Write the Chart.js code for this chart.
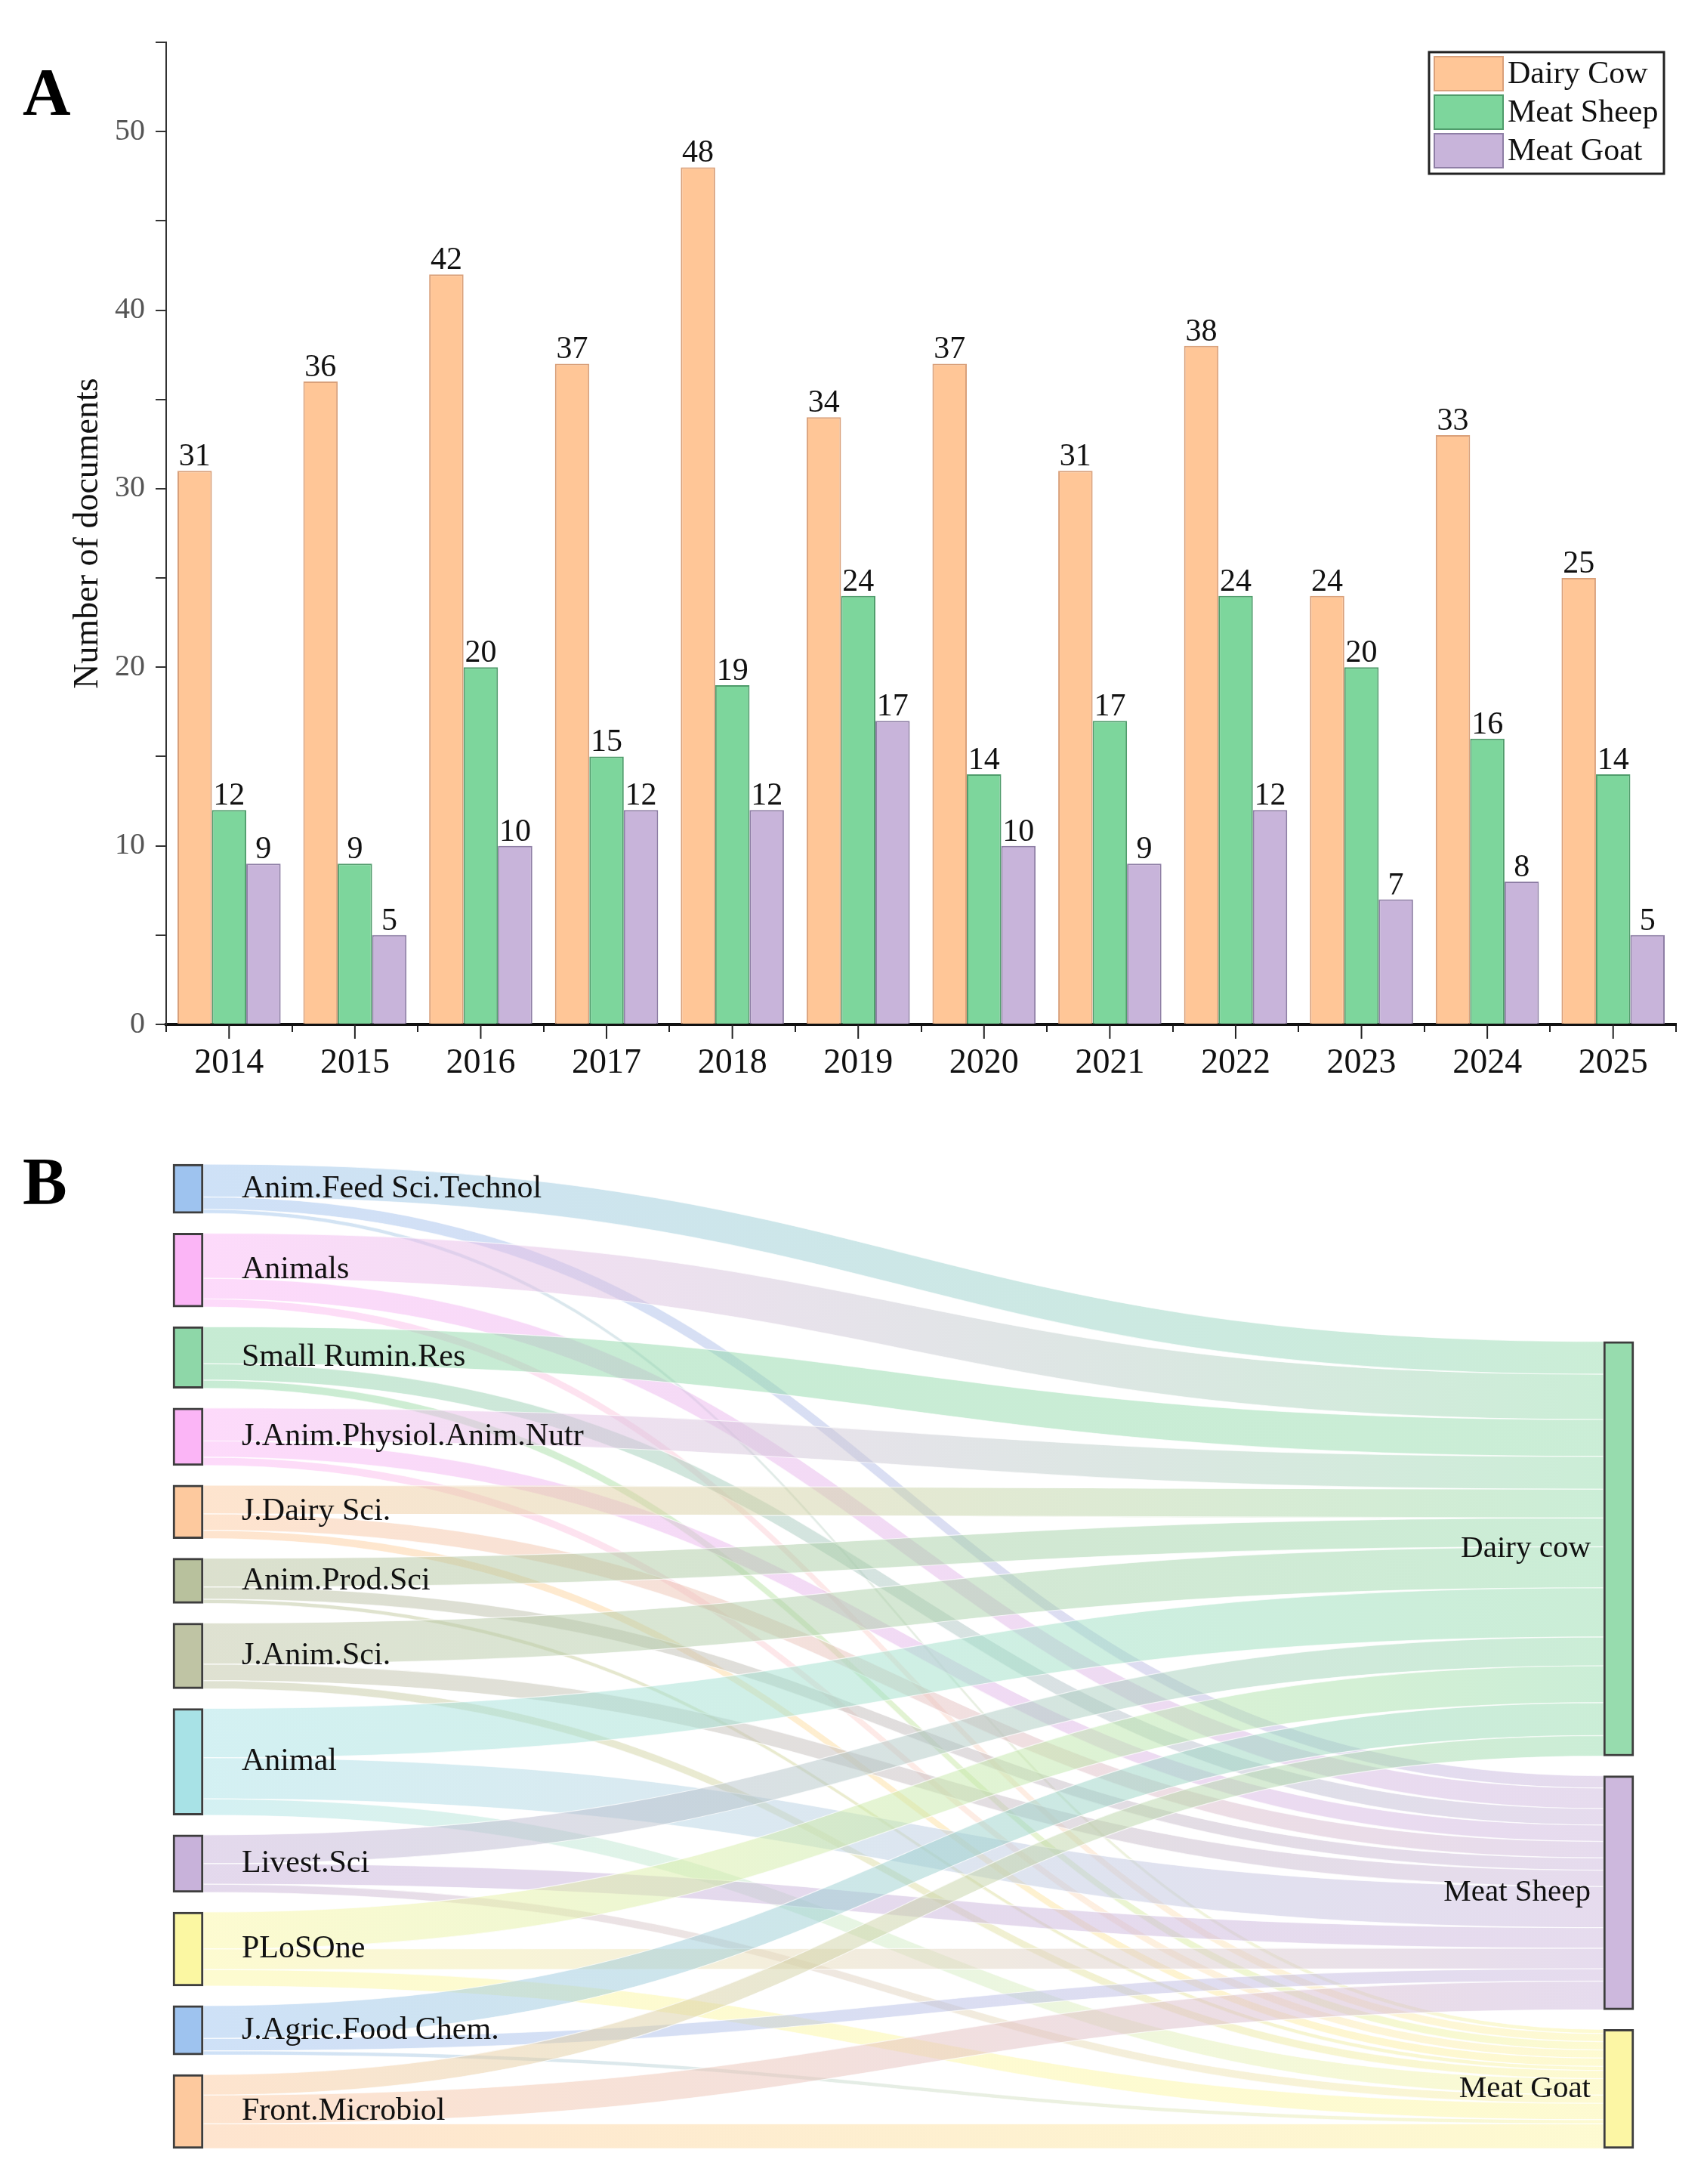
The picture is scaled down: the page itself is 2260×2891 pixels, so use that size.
<!DOCTYPE html>
<html>
<head>
<meta charset="utf-8">
<script src="https://cdn.jsdelivr.net/npm/chart.js@4.4.1/dist/chart.umd.min.js"></script>
<style>
    html, body { margin: 0; padding: 0; background: #fff; }
    #page { position: relative; width: 2260px; height: 2891px; }
    #barChart { position: absolute; left: 0; top: 0; }
    #flowChart { position: absolute; left: 0; top: 1480px; }
    .panel { position: absolute; font-family: "Liberation Serif", serif; font-weight: bold; font-size: 88px; line-height: 88px; color: #000; }
</style>
</head>
<body>
<div id="page">
    <canvas id="barChart" width="2260" height="1480"></canvas>
    <canvas id="flowChart" width="2260" height="1411"></canvas>
    <div class="panel" style="left:30px; top:78px;">A</div>
    <div class="panel" style="left:30px; top:1520px;">B</div>
</div>
<script>
// ---- A: documents per year ----
const years = ['2014', '2015', '2016', '2017', '2018', '2019', '2020', '2021', '2022', '2023', '2024', '2025'];
const dairyCow = [31, 36, 42, 37, 48, 34, 37, 31, 38, 24, 33, 25];
const meatSheep = [12, 9, 20, 15, 19, 24, 14, 17, 24, 20, 16, 14];
const meatGoat = [9, 5, 10, 12, 12, 17, 10, 9, 12, 7, 8, 5];
const yTicks = [0, 10, 20, 30, 40, 50];

// ---- B: journal -> livestock flows ----
const journals = ['Anim.Feed Sci.Technol', 'Animals', 'Small Rumin.Res', 'J.Anim.Physiol.Anim.Nutr', 'J.Dairy Sci.',
    'Anim.Prod.Sci', 'J.Anim.Sci.', 'Animal', 'Livest.Sci', 'PLoSOne', 'J.Agric.Food Chem.', 'Front.Microbiol'];
const livestock = ['Dairy cow', 'Meat Sheep', 'Meat Goat'];
const toDairyCow = [8, 11, 9, 8, 7, 7, 10, 12, 7, 9, 8, 5];
const toMeatSheep = [3, 5, 4, 4, 4, 3, 4, 10, 5, 5, 3, 7];
const toMeatGoat = [1, 2, 2, 2, 2, 1, 2, 4, 2, 4, 1, 6];

const serif = '"Liberation Serif", "Times New Roman", serif';
const journalColors = ['#9ec3ef', '#fbb5f6', '#8ed7a8', '#fbb5f6', '#fdc99e', '#b8c19d',
    '#bfc4a4', '#a8e2e6', '#c8b2da', '#fbf7a2', '#9ec3ef', '#fdc99e'];
const livestockColors = ['#97dcae', '#cdb8dd', '#fcf6a4'];

function hexA(hex, a) {
    const n = parseInt(hex.slice(1), 16);
    return `rgba(${n >> 16}, ${(n >> 8) & 255}, ${n & 255}, ${a})`;
}

// numbers above the bars
const valueLabels = {
    id: 'valueLabels',
    afterDatasetsDraw(chart) {
        const ctx = chart.ctx;
        ctx.save();
        ctx.font = `42px ${serif}`;
        ctx.fillStyle = '#111';
        ctx.textAlign = 'center';
        ctx.textBaseline = 'alphabetic';
        chart.data.datasets.forEach((ds, i) => {
            chart.getDatasetMeta(i).data.forEach((bar, k) => {
                ctx.fillText(ds.data[k], bar.x, bar.y - 7);
            });
        });
        ctx.restore();
    }
};

// extra tick under every year label
const centerTicks = {
    id: 'centerTicks',
    afterDraw(chart) {
        const x = chart.scales.x;
        const ctx = chart.ctx;
        ctx.save();
        ctx.strokeStyle = '#222';
        ctx.lineWidth = 2;
        years.forEach((_, i) => {
            const px = x.getPixelForTick(i);
            ctx.beginPath();
            ctx.moveTo(px, x.top);
            ctx.lineTo(px, x.top + 19);
            ctx.stroke();
        });
        ctx.restore();
    }
};

// boxed legend in the top right corner
const boxLegend = {
    id: 'boxLegend',
    afterDraw(chart) {
        const ctx = chart.ctx;
        const left = 1892, top = 69, w = 311, h = 161;
        ctx.save();
        ctx.fillStyle = '#fff';
        ctx.fillRect(left, top, w, h);
        ctx.strokeStyle = '#222';
        ctx.lineWidth = 3;
        ctx.strokeRect(left, top, w, h);
        ctx.font = `42px ${serif}`;
        ctx.textBaseline = 'middle';
        chart.data.datasets.forEach((ds, i) => {
            const y = top + 6 + i * 51;
            ctx.fillStyle = ds.backgroundColor;
            ctx.fillRect(left + 7, y, 91, 45);
            ctx.strokeStyle = ds.borderColor;
            ctx.lineWidth = 2;
            ctx.strokeRect(left + 7, y, 91, 45);
            ctx.fillStyle = '#111';
            ctx.fillText(ds.label, left + 104, y + 24);
        });
        ctx.restore();
    }
};

new Chart(document.getElementById('barChart'), {
    type: 'bar',
    data: {
        labels: years,
        datasets: [
            { label: 'Dairy Cow', data: dairyCow, backgroundColor: '#ffc697', borderColor: '#d9a07a', borderWidth: 2 },
            { label: 'Meat Sheep', data: meatSheep, backgroundColor: '#7dd69c', borderColor: '#4f9c6b', borderWidth: 2 },
            { label: 'Meat Goat', data: meatGoat, backgroundColor: '#c8b4da', borderColor: '#8e7ea5', borderWidth: 2 }
        ]
    },
    options: {
        responsive: false,
        animation: false,
        devicePixelRatio: 1,
        layout: { padding: { left: 85, right: 41, top: 56, bottom: 0 } },
        datasets: { bar: { categoryPercentage: 0.82, barPercentage: 1 } },
        plugins: { legend: { display: false }, tooltip: { enabled: false } },
        scales: {
            x: {
                grid: { offset: true, drawOnChartArea: false, tickLength: 10, color: '#222', lineWidth: 2 },
                border: { color: '#111', width: 4 },
                ticks: { font: { family: serif, size: 46 }, color: '#111', padding: 14, maxRotation: 0 },
                afterFit: (scale) => { scale.height = 124; }
            },
            y: {
                min: 0,
                max: 55,
                ticks: {
                    stepSize: 5,
                    callback: (v) => (yTicks.includes(v) ? v : ''),
                    font: { family: serif, size: 40 },
                    color: '#555',
                    padding: 14
                },
                grid: { drawOnChartArea: false, tickLength: 14, color: '#333', lineWidth: 2 },
                border: { color: '#333', width: 2 },
                title: { display: true, text: 'Number of documents', font: { family: serif, size: 46 }, color: '#111', padding: 4 },
                afterFit: (scale) => { scale.width = 135; }
            }
        }
    },
    plugins: [valueLabels, centerTicks, boxLegend]
});

// ---- B: sankey built from floating bars + link plugin ----
const gapUnits = 4.8;
const flows = [toDairyCow, toMeatSheep, toMeatGoat];
const journalTotals = journals.map((_, i) => flows.reduce((s, f) => s + f[i], 0));
const livestockTotals = flows.map((f) => f.reduce((a, b) => a + b, 0));
const sum = (arr) => arr.reduce((a, b) => a + b, 0);
const leftSpan = sum(journalTotals) + gapUnits * (journals.length - 1);
const rightSpan = sum(livestockTotals) + gapUnits * (livestock.length - 1);

function stackNodes(values, start) {
    let pos = start;
    return values.map((v) => {
        const r = [pos, pos + v];
        pos += v + gapUnits;
        return r;
    });
}
const leftNodes = stackNodes(journalTotals, 0);
const rightNodes = stackNodes(livestockTotals, leftSpan - rightSpan);

const halfNode = 20;

const sankeyLinks = {
    id: 'sankeyLinks',
    beforeDatasetsDraw(chart) {
        const { ctx } = chart;
        const xs = chart.scales.x, ys = chart.scales.y;
        const x0 = xs.getPixelForValue(0) + halfNode;
        const x1 = xs.getPixelForValue(1) - halfNode;
        const xm = (x0 + x1) / 2;
        const srcOff = journals.map(() => 0);
        const tgtOff = livestock.map(() => 0);
        // offsets: sources stack by target order, targets stack by source order
        const links = [];
        journals.forEach((_, i) => {
            flows.forEach((f, j) => {
                links.push({ i, j, v: f[i], s: leftNodes[i][0] + srcOff[i] });
                srcOff[i] += f[i];
            });
        });
        flows.forEach((f, j) => {
            journals.forEach((_, i) => {
                const link = links.find((l) => l.i === i && l.j === j);
                link.t = rightNodes[j][0] + tgtOff[j];
                tgtOff[j] += f[i];
            });
        });
        ctx.save();
        links.forEach((l) => {
            if (!l.v) return;
            const sa = ys.getPixelForValue(l.s), sb = ys.getPixelForValue(l.s + l.v);
            const ta = ys.getPixelForValue(l.t), tb = ys.getPixelForValue(l.t + l.v);
            const g = ctx.createLinearGradient(x0, 0, x1, 0);
            g.addColorStop(0, hexA(journalColors[l.i], 0.5));
            g.addColorStop(1, hexA(livestockColors[l.j], 0.5));
            ctx.beginPath();
            ctx.moveTo(x0, sa);
            ctx.bezierCurveTo(xm, sa, xm, ta, x1, ta);
            ctx.lineTo(x1, tb);
            ctx.bezierCurveTo(xm, tb, xm, sb, x0, sb);
            ctx.closePath();
            ctx.fillStyle = g;
            ctx.fill();
            ctx.strokeStyle = 'rgba(255,255,255,0.7)';
            ctx.lineWidth = 1.2;
            ctx.stroke();
        });
        ctx.restore();
    },
    afterDatasetsDraw(chart) {
        const { ctx } = chart;
        const bars = chart.getDatasetMeta(0).data;
        ctx.save();
        ctx.fillStyle = '#111';
        ctx.textBaseline = 'middle';
        ctx.font = `42px ${serif}`;
        ctx.textAlign = 'left';
        journals.forEach((name, i) => {
            const b = bars[i];
            ctx.fillText(name, b.x + 71, (b.y + b.base) / 2);
        });
        ctx.font = `41px ${serif}`;
        ctx.textAlign = 'right';
        livestock.forEach((name, j) => {
            const b = bars[journals.length + j];
            ctx.fillText(name, b.x - 37, (b.y + b.base) / 2);
        });
        ctx.restore();
    }
};

new Chart(document.getElementById('flowChart'), {
    type: 'bar',
    data: {
        datasets: [{
            data: [
                ...leftNodes.map((r) => ({ x: 0, y: r })),
                ...rightNodes.map((r) => ({ x: 1, y: r }))
            ],
            backgroundColor: [...journalColors, ...livestockColors],
            borderColor: '#3d3d3d',
            borderWidth: 3,
            borderSkipped: false,
            barThickness: halfNode * 2,
            grouped: false,
            clip: false
        }]
    },
    options: {
        responsive: false,
        animation: false,
        devicePixelRatio: 1,
        layout: { padding: { left: 249, right: 117, top: 61, bottom: 47 } },
        plugins: { legend: { display: false }, tooltip: { enabled: false } },
        scales: {
            x: { type: 'linear', min: 0, max: 1, offset: false, display: false },
            y: { type: 'linear', min: 0, max: leftSpan, reverse: true, display: false }
        }
    },
    plugins: [sankeyLinks]
});
</script>
</body>
</html>
